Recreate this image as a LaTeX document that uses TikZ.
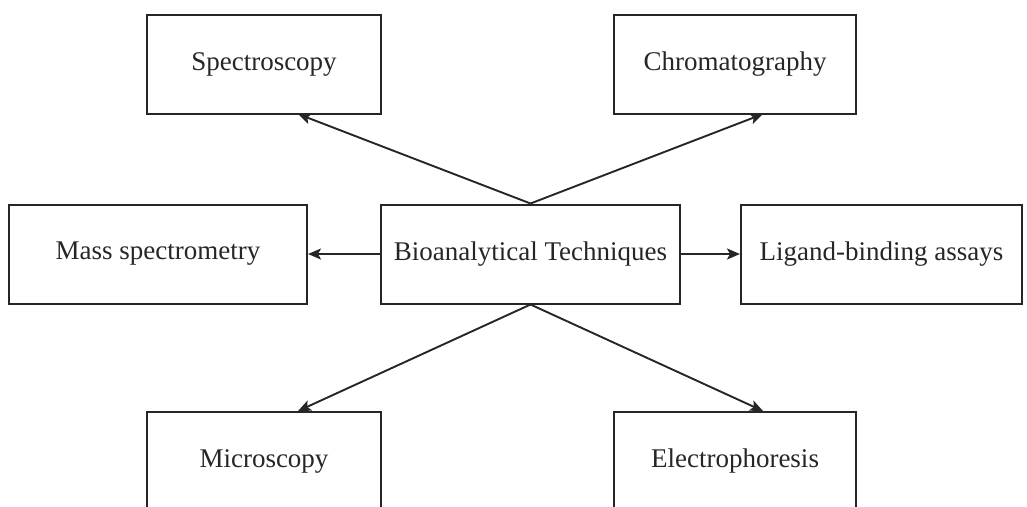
\documentclass[tikz,border=0pt]{standalone}
\usepackage{fontspec}
\setmainfont{Liberation Serif}
\usetikzlibrary{arrows.meta}
\begin{document}
\begin{tikzpicture}[x=1pt,y=-1pt,
  box/.style={draw=black!85,line width=2pt,minimum width=#1,minimum height=99pt,inner sep=0pt,font=\fontsize{27}{31}\selectfont,text=black!85},
  conn/.style={line width=1.9pt,draw=black!85,-{Stealth[length=13pt,width=11pt,inset=3pt]}}]
\useasboundingbox (0,0) rectangle (1027,506);
\clip (0,0) rectangle (1027,506);
\node[box=234pt] (spec) at (264,64.5) {Spectroscopy};
\node[box=242pt] (chrom) at (735,64.5) {Chromatography};
\node[box=298pt] (mass) at (158,254) {Mass spectrometry};
\node[box=299pt] (c) at (530.5,254) {Bioanalytical Techniques};
\node[box=281pt] (lig) at (881.5,254) {Ligand-binding assays};
\node[box=234pt] (micro) at (264,461) {Microscopy};
\node[box=242pt] (elec) at (735,461) {Electrophoresis};
\coordinate (ts) at (298,114);
\coordinate (tc) at (763,114);
\coordinate (tm) at (298,411);
\coordinate (te) at (763,411);
\draw[conn] (c.north) -- (ts);
\draw[conn] (c.north) -- (tc);
\draw[conn] (c.south) -- (tm);
\draw[conn] (c.south) -- (te);
\draw[conn] (c.west) -- (mass.east);
\draw[conn] (c.east) -- (lig.west);
\end{tikzpicture}
\end{document}
